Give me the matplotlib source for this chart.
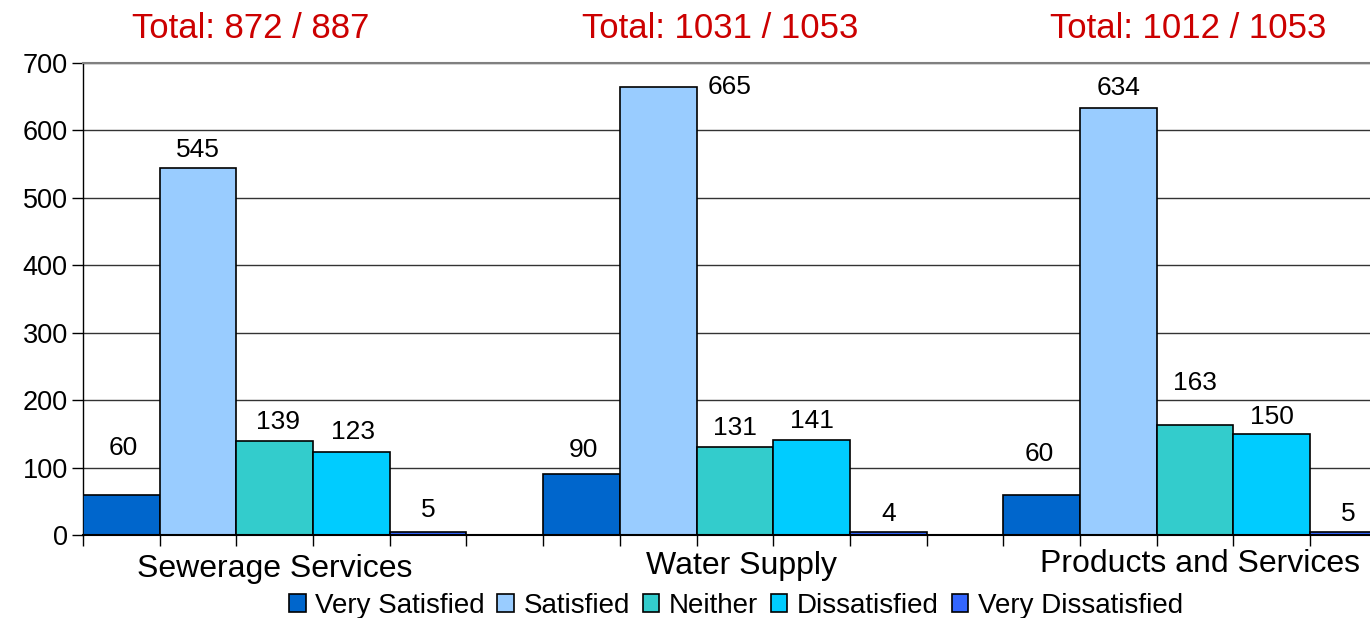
import numpy as np
import matplotlib
matplotlib.use("Agg")
import matplotlib.pyplot as plt

plt.rcParams['font.family'] = ['Liberation Sans', 'DejaVu Sans']

categories = ["Sewerage Services", "Water Supply", "Products and Services"]
series_names = ["Very Satisfied", "Satisfied", "Neither", "Dissatisfied", "Very Dissatisfied"]
very_satisfied = [60, 90, 60]
satisfied = [545, 665, 634]
neither = [139, 131, 163]
dissatisfied = [123, 141, 150]
very_dissatisfied = [5, 4, 5]
respondents = [887, 1053, 1053]

colors = ["#0066CC", "#99CCFF", "#33CCCC", "#00CCFF", "#3366FF"]

# label offsets in pixels (dx, dy above bar top), one row per series
label_offsets = [
    [(2, 47), (2, 24), (-2, 41)],
    [(0, 18), (71, 0), (0, 20)],
    [(3, 19), (0, 19), (0, 42)],
    [(2, 20), (0, 19), (0, 17)],
    [(0, 22), (0, 18), (0, 18)],
]
# pixel nudges for the totals and the category names
total_dx = [-24, -15, -7]
cat_offsets = [(0, -34), (7, -31), (5, -29)]

series = [very_satisfied, satisfied, neither, dissatisfied, very_dissatisfied]
x = np.arange(len(categories))
w = 1 / 6

fig = plt.figure(figsize=(13.7, 6.18), dpi=100)
ax = fig.add_axes([83 / 1370, 83 / 618, 1287 / 1370, 472 / 618])

for k, (name, vals) in enumerate(zip(series_names, series)):
    pos = x + (k - 2) * w
    bars = ax.bar(pos, vals, width=w, color=colors[k], edgecolor="black",
                  linewidth=1.2, label=name, zorder=3)
    for b, v, (dx, dy) in zip(bars, vals, label_offsets[k]):
        ax.annotate(str(v), (b.get_x() + b.get_width() / 2, v),
                    xytext=(dx, dy), textcoords="offset pixels",
                    ha="center", va="center", fontsize=19, zorder=4,
                    annotation_clip=False)

for i in range(len(categories)):
    total = sum(s[i] for s in series)
    ax.annotate(f"Total: {total} / {respondents[i]}", (x[i], 700),
                xytext=(total_dx[i], 35), textcoords="offset pixels",
                ha="center", va="center", fontsize=25, color="#CC0000",
                annotation_clip=False)
    ax.annotate(categories[i], (x[i], 0), xytext=cat_offsets[i],
                textcoords="offset pixels", ha="center", va="center",
                fontsize=23, annotation_clip=False)

ax.set_yticks(range(0, 701, 100))
ax.tick_params(axis="y", labelsize=19.5, length=8, width=1, pad=3)
ax.yaxis.grid(True, color="#333333", linewidth=1, zorder=0)

ax.set_xticks([])
edges = np.concatenate([xi + (np.arange(6) - 2.5) * w for xi in x])
ax.set_xticks(edges, minor=True)
ax.tick_params(axis="x", which="minor", length=8, width=1)

# limits after the ticks so set_xticks does not widen them
ax.set_xlim(-2.5 * w, 2.38)
ax.set_ylim(0, 700)

ax.spines["top"].set_color("#808080")
ax.spines["top"].set_linewidth(1.5)
ax.spines["right"].set_visible(False)
ax.spines["left"].set_linewidth(1)
ax.spines["bottom"].set_linewidth(1.5)
ax.spines["bottom"].set_zorder(5)

ax.legend(loc="center", bbox_to_anchor=(653 / 1287, -(606 - 535) / 472),
          ncol=5, frameon=False, fontsize=20, handlelength=0.6,
          handleheight=0.6, handletextpad=0.35, columnspacing=0.45,
          borderaxespad=0)

fig.savefig("out.png", dpi=100)
